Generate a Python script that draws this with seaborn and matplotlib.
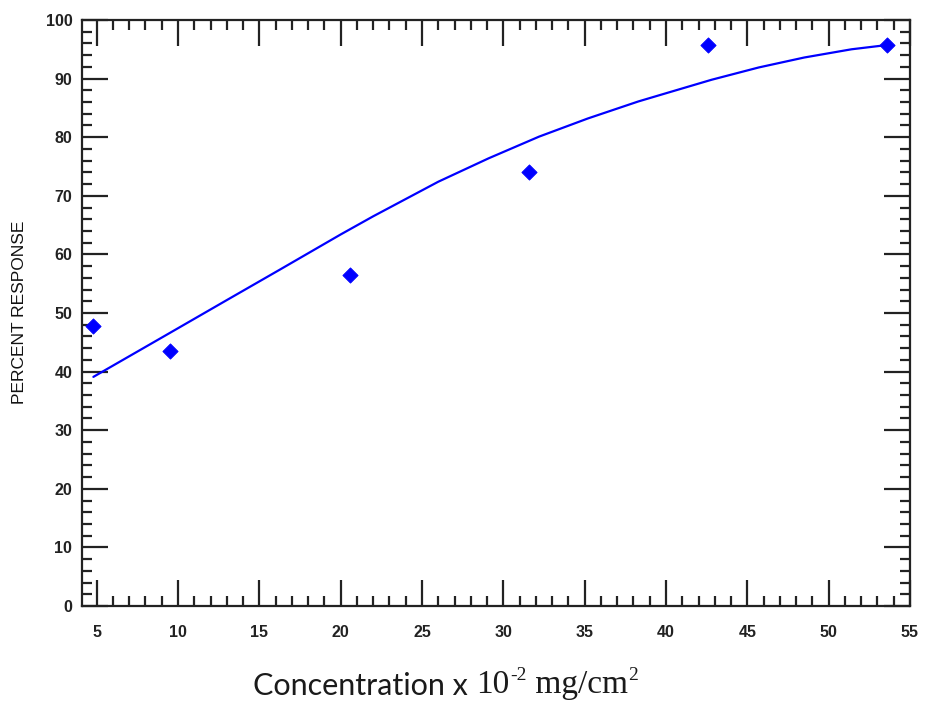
import numpy as np
import pandas as pd
import seaborn as sns
import matplotlib.pyplot as plt
from matplotlib.ticker import MultipleLocator

# observed points
conc = [4.8, 9.5, 20.6, 31.6, 42.6, 53.6]
response = [47.8, 43.5, 56.5, 74.0, 95.8, 95.8]

# fitted curve
fit_x = [4.8, 9.5, 13.0, 16.2, 20.0, 22.0, 26.0, 29.1, 32.2, 35.2, 38.3, 40.0,
         42.8, 45.7, 48.5, 51.4, 53.5]
fit_y = [39.1, 46.6, 52.2, 57.3, 63.4, 66.5, 72.4, 76.4, 80.1, 83.2, 86.1, 87.5,
         89.8, 91.9, 93.6, 95.0, 95.7]

x_ticks = [5, 10, 15, 20, 25, 30, 35, 40, 45, 50, 55]
y_ticks = [0, 10, 20, 30, 40, 50, 60, 70, 80, 90, 100]

sns.set_style("ticks")
plt.rcParams['font.family'] = ['Liberation Sans', 'DejaVu Sans']

pts = pd.DataFrame({"conc": conc, "response": response})
fit = pd.DataFrame({"conc": fit_x, "response": fit_y})

fig = plt.figure(figsize=(9.25, 7.02), dpi=100)
ax = fig.add_axes([82 / 925, 96 / 702, 828 / 925, 586 / 702])

sns.lineplot(data=fit, x="conc", y="response", ax=ax, color="#0000ff",
             linewidth=1.6, estimator=None, sort=False)
sns.scatterplot(data=pts, x="conc", y="response", ax=ax, color="#0000ff",
                marker="D", s=60, edgecolor="#0000ff", zorder=3)

ax.set_xlim(4.1, 55)
ax.set_ylim(0, 100)
ax.set_xticks(x_ticks)
ax.set_yticks(y_ticks)
ax.xaxis.set_minor_locator(MultipleLocator(1))
ax.yaxis.set_minor_locator(MultipleLocator(2))

for s in ax.spines.values():
    s.set_linewidth(1.6)
    s.set_color("#222222")

ax.tick_params(which="major", direction="in", length=19, width=1.6, color="#222222",
               top=True, right=True, labelsize=11.5)
ax.tick_params(which="minor", direction="in", length=7, width=1.6, color="#222222",
               top=True, right=True)
ax.tick_params(axis="x", which="major", pad=14)
ax.tick_params(axis="y", which="major", pad=7)
for lab in ax.get_xticklabels() + ax.get_yticklabels():
    lab.set_fontweight("bold")
    lab.set_color("#222222")

ax.set_xlabel("")
ax.set_ylabel("")
fig.text(20 / 925, 1 - 312 / 702, "PERCENT RESPONSE", rotation=90,
         ha="center", va="center", fontsize=12.5, color="#111111")

# x label: sans part then serif part with raised exponents
col = "#1a1a1a"
t1 = fig.text(253 / 925, 1 - 700 / 702, "Concentration x", family="Lato",
              fontsize=22, color=col, ha="left", va="bottom")
t2 = ax.annotate("10", xy=(1, 0), xycoords=t1, xytext=(6, 0), textcoords="offset points",
                 va="bottom", ha="left", family="Liberation Serif", fontsize=24,
                 color=col, annotation_clip=False)
t3 = ax.annotate("-2", xy=(1, 1), xycoords=t2, xytext=(0.5, 2), textcoords="offset points",
                 va="top", ha="left", family="Liberation Serif", fontsize=14,
                 color=col, annotation_clip=False)
t4 = ax.annotate(" mg/cm", xy=(1, 0), xycoords=(t3, t2), xytext=(0, 0),
                 textcoords="offset points", va="bottom", ha="left",
                 family="Liberation Serif", fontsize=24, color=col, annotation_clip=False)
ax.annotate("2", xy=(1, 1), xycoords=(t4, t2), xytext=(0.5, 2), textcoords="offset points",
            va="top", ha="left", family="Liberation Serif", fontsize=14,
            color=col, annotation_clip=False)

fig.savefig("out.png", dpi=100)
